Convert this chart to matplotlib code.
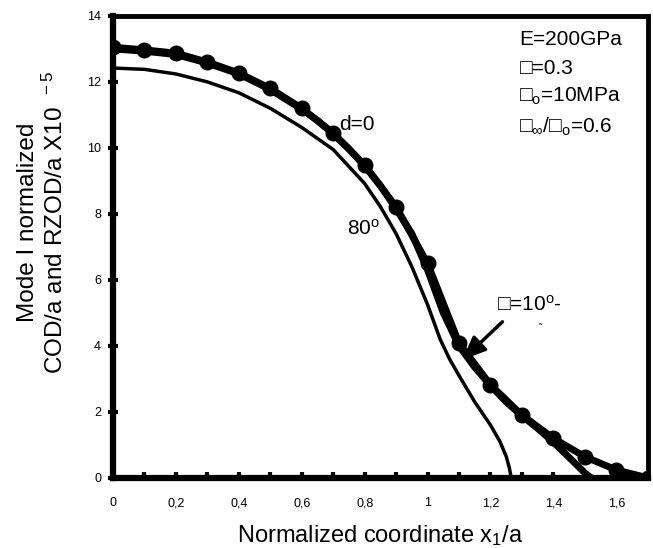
import matplotlib
matplotlib.use("Agg")
import matplotlib.pyplot as plt
from matplotlib.ticker import MultipleLocator, FuncFormatter

plt.rcParams["font.family"] = ["Liberation Sans", "DejaVu Sans"]
plt.rcParams["mathtext.fontset"] = "custom"
plt.rcParams["mathtext.rm"] = "Liberation Sans"
plt.rcParams["mathtext.it"] = "Liberation Sans"

# d=0 curve with markers
x_d0 = [0.0, 0.1, 0.2, 0.3, 0.4, 0.5, 0.6, 0.7, 0.8, 0.9, 1.0, 1.1, 1.2, 1.3, 1.4, 1.5, 1.6, 1.7]
y_d0 = [13.05, 12.97, 12.87, 12.6, 12.27, 11.8, 11.2, 10.45, 9.48, 8.21, 6.5, 4.08, 2.82, 1.9, 1.2, 0.64, 0.24, 0.0]

# 10 deg curve (thick, no markers)
x_10 = [0.0, 0.1, 0.2, 0.3, 0.4, 0.5, 0.6, 0.65, 0.7, 0.75, 0.8, 0.85, 0.9, 0.95, 1.0,
        1.05, 1.1, 1.15, 1.2, 1.25, 1.3, 1.35, 1.4, 1.45, 1.5, 1.52]
y_10 = [13.0, 12.93, 12.83, 12.57, 12.24, 11.77, 11.17, 10.83, 10.42, 9.97, 9.45, 8.86, 8.15, 7.4, 6.3,
        5.0, 4.0, 3.35, 2.8, 2.3, 1.88, 1.5, 1.08, 0.62, 0.15, 0.0]

# 80 deg curve (thin)
x_80 = [0.0, 0.1, 0.2, 0.3, 0.4, 0.5, 0.6, 0.7, 0.8, 0.85, 0.9, 0.95, 1.0, 1.04, 1.07, 1.1, 1.15, 1.2, 1.23, 1.25, 1.26, 1.266]
y_80 = [12.42, 12.38, 12.24, 12.0, 11.67, 11.2, 10.62, 9.95, 8.92, 8.22, 7.4, 6.4, 5.25, 4.2, 3.6, 3.1, 2.3, 1.6, 1.1, 0.65, 0.3, 0.0]

fig = plt.figure(figsize=(6.53, 5.48), dpi=100)
ax = fig.add_axes([0.173, 0.128, 0.819, 0.843])

ax.plot(x_80, y_80, color="black", lw=2.5)
ax.plot(x_10, y_10, color="black", lw=5)
ax.plot(x_d0, y_d0, color="black", lw=5, marker="o", ms=10.5)

ax.set_xlim(0, 1.7)
ax.set_ylim(0, 14)

ax.xaxis.set_major_locator(MultipleLocator(0.2))
ax.xaxis.set_minor_locator(MultipleLocator(0.1))
ax.yaxis.set_major_locator(MultipleLocator(2))
ax.xaxis.set_major_formatter(FuncFormatter(lambda v, p: f"{v:g}".replace(".", ",")))

ax.tick_params(axis="x", which="both", direction="in", length=4, width=3,
               pad=14, labelsize=9)
ax.tick_params(axis="y", direction="inout", length=7, width=3, pad=5, labelsize=9)
ax.tick_params(top=False, right=False)

for name, sp in ax.spines.items():
    sp.set_linewidth(3.5 if name in ("top", "right") else 4.5)

ax.set_xlabel("Normalized coordinate x$_1$/a", fontsize=17, labelpad=10)
ax.set_ylabel("Mode I normalized\nCOD/a and RZOD/a X10$^{\\ \\ -5}$", fontsize=17.5,
              linespacing=1.15)
ax.yaxis.set_label_coords(-0.085, 0.553)

fs = 15
ax.text(1.292, 13.27, "E=200GPa", fontsize=fs, va="center")
ax.text(1.292, 12.41, "□=0.3", fontsize=fs, va="center")
ax.text(1.292, 11.55, "□$_{\\rm o}$=10MPa", fontsize=fs, va="center")
ax.text(1.292, 10.64, "□$_{\\infty}$/□$_{\\rm o}$=0.6", fontsize=fs, va="center")

ax.text(0.72, 10.7, "d=0", fontsize=fs, va="center")
ax.text(0.743, 7.55, "80$^{\\rm o}$", fontsize=fs, va="center")
ax.text(1.222, 5.24, "□=10$^{\\rm o}$-", fontsize=fs, va="center")
ax.text(1.35, 4.55, "˜", fontsize=7, va="center")

ax.annotate("", xy=(1.111, 3.58), xytext=(1.238, 4.73),
            arrowprops=dict(arrowstyle="-|>,head_length=1.4,head_width=0.6",
                            color="black", lw=2.5, shrinkA=0, shrinkB=0))

fig.savefig("out.png", dpi=100)
